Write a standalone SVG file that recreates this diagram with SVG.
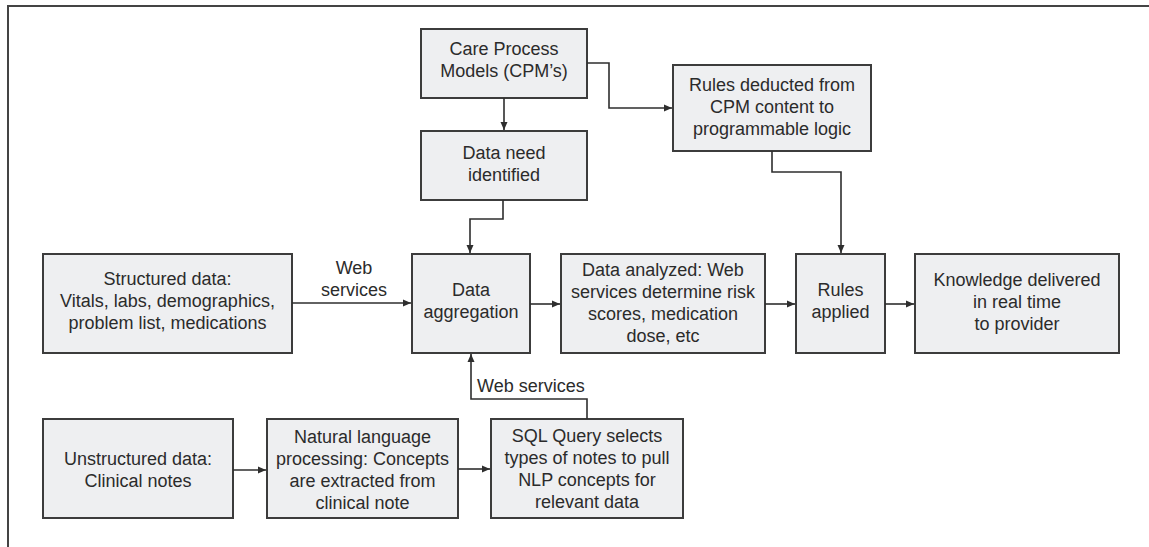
<svg xmlns="http://www.w3.org/2000/svg" width="1149" height="547" viewBox="0 0 1149 547">
<style>
.box{fill:#eeeff1;stroke:#3c3c3c;stroke-width:2}
.t{font-family:"Liberation Sans",Arial,sans-serif;font-size:18px;fill:#2b2b2b;text-anchor:middle}
.c{fill:none;stroke:#2e2e2e;stroke-width:1.6}
.frame{fill:none;stroke:#444;stroke-width:2}
</style>
<defs>
<marker id="ah" markerUnits="userSpaceOnUse" markerWidth="9" markerHeight="8" refX="8" refY="4" orient="auto">
<path d="M0,0.5 L8,4 L0,7.5 z" fill="#2e2e2e"/>
</marker>
</defs>
<rect width="1149" height="547" fill="#fff"/>
<path class="frame" d="M8,547 V6 H1149"/>

<g id="cpm"><rect class="box" x="421" y="29" width="166" height="69"/>
<text class="t" x="504" y="55">Care Process</text><text class="t" x="504" y="77">Models (CPM’s)</text></g>

<g id="dataneed"><rect class="box" x="421" y="131" width="166" height="69"/>
<text class="t" x="504" y="159">Data need</text><text class="t" x="504" y="181">identified</text></g>

<g id="rulesdeducted"><rect class="box" x="673" y="65" width="198" height="86"/>
<text class="t" x="772" y="91">Rules deducted from</text><text class="t" x="772" y="113">CPM content to</text><text class="t" x="772" y="135">programmable logic</text></g>

<g id="structured"><rect class="box" x="43" y="254" width="249" height="99"/>
<text class="t" x="167.5" y="285">Structured data:</text><text class="t" x="167.5" y="307">Vitals, labs, demographics,</text><text class="t" x="167.5" y="329">problem list, medications</text></g>

<g id="aggregation"><rect class="box" x="412" y="254" width="118" height="99"/>
<text class="t" x="471" y="296">Data</text><text class="t" x="471" y="318">aggregation</text></g>

<g id="analyzed"><rect class="box" x="561" y="254" width="204" height="99"/>
<text class="t" x="663" y="276">Data analyzed: Web</text><text class="t" x="663" y="298">services determine risk</text><text class="t" x="663" y="320">scores, medication</text><text class="t" x="663" y="342">dose, etc</text></g>

<g id="rulesapplied"><rect class="box" x="796" y="254" width="89" height="99"/>
<text class="t" x="840.5" y="296">Rules</text><text class="t" x="840.5" y="318">applied</text></g>

<g id="knowledge"><rect class="box" x="915" y="254" width="204" height="99"/>
<text class="t" x="1017" y="286">Knowledge delivered</text><text class="t" x="1017" y="308">in real time</text><text class="t" x="1017" y="330">to provider</text></g>

<g id="unstructured"><rect class="box" x="43" y="419" width="190" height="99"/>
<text class="t" x="138" y="465">Unstructured data:</text><text class="t" x="138" y="487">Clinical notes</text></g>

<g id="nlp"><rect class="box" x="267" y="419" width="191" height="99"/>
<text class="t" x="362.5" y="443">Natural language</text><text class="t" x="362.5" y="465">processing: Concepts</text><text class="t" x="362.5" y="487">are extracted from</text><text class="t" x="362.5" y="509">clinical note</text></g>

<g id="sql"><rect class="box" x="491" y="419" width="192" height="99"/>
<text class="t" x="587" y="442">SQL Query selects</text><text class="t" x="587" y="464">types of notes to pull</text><text class="t" x="587" y="486">NLP concepts for</text><text class="t" x="587" y="508">relevant data</text></g>

<g id="connectors">
<path class="c" d="M504,98 V130" marker-end="url(#ah)"/>
<path class="c" d="M587,63 H609 V108 H672" marker-end="url(#ah)"/>
<path class="c" d="M503,200 V219 H470 V253" marker-end="url(#ah)"/>
<path class="c" d="M772,151 V172 H841 V253" marker-end="url(#ah)"/>
<path class="c" d="M292,303 H411" marker-end="url(#ah)"/>
<path class="c" d="M530,304 H560" marker-end="url(#ah)"/>
<path class="c" d="M765,304 H795" marker-end="url(#ah)"/>
<path class="c" d="M885,304 H914" marker-end="url(#ah)"/>
<path class="c" d="M233,470 H266" marker-end="url(#ah)"/>
<path class="c" d="M458,469 H490" marker-end="url(#ah)"/>
<path class="c" d="M587,419 V399 H471 V354" marker-end="url(#ah)"/>
<text class="t" x="354" y="274">Web</text><text class="t" x="354" y="296">services</text>
<text class="t" x="477" y="392" style="text-anchor:start">Web services</text>
</g>
</svg>
